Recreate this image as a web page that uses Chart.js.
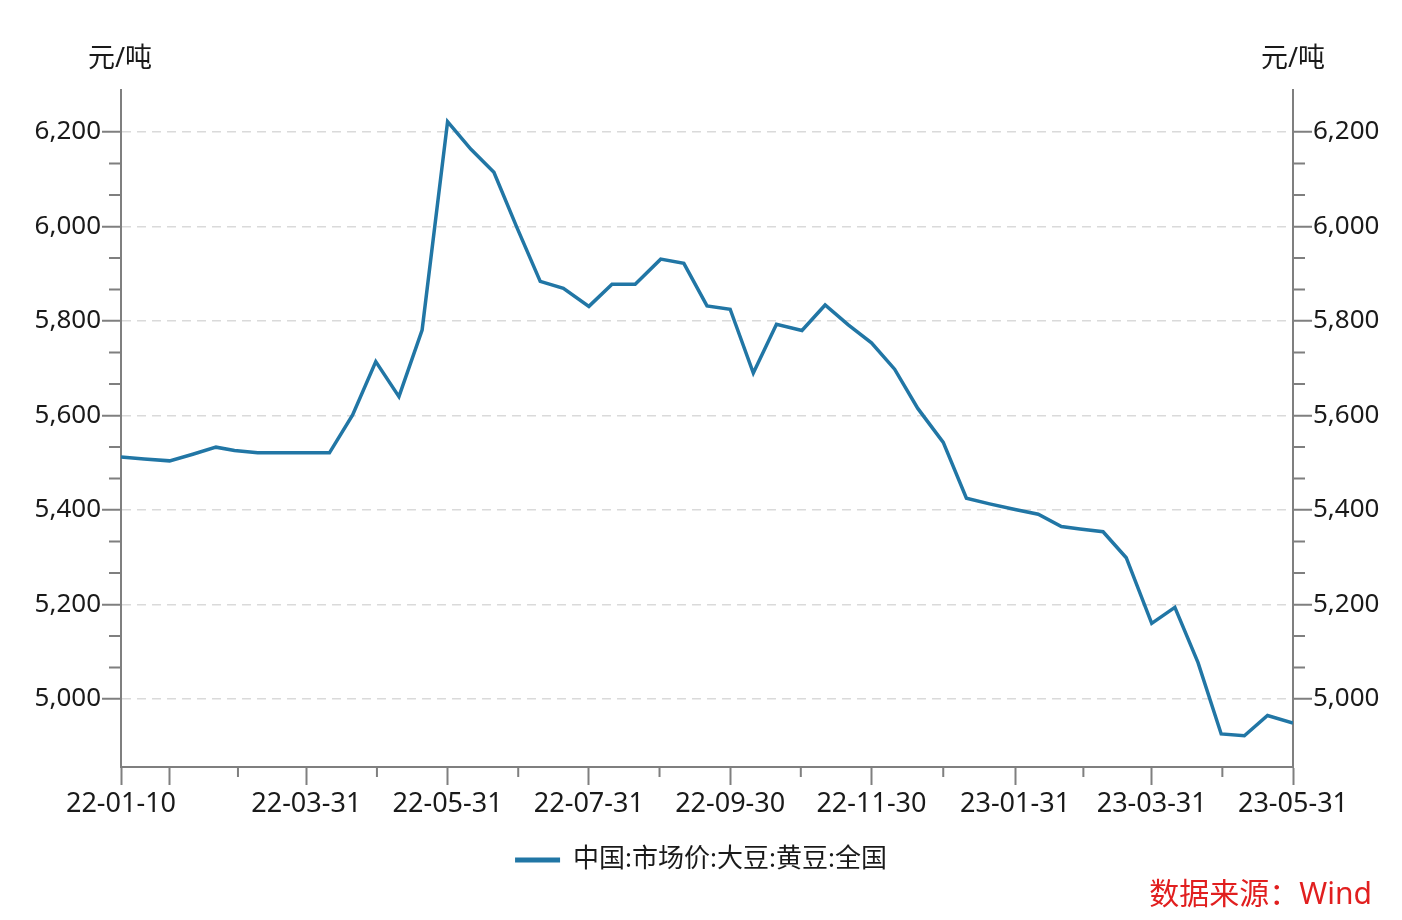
<!DOCTYPE html>
<html lang="zh-CN">
<head>
<meta charset="utf-8">
<title>中国:市场价:大豆:黄豆:全国</title>
<script src="https://cdn.jsdelivr.net/npm/chart.js@4.4.1/dist/chart.umd.min.js"></script>
<style>
  body { margin: 0; background: #fff; }
  #wrap { position: relative; width: 1402px; height: 920px; font-family: "Noto Sans", "Noto Sans CJK SC", sans-serif; }
  #chart { position: absolute; left: 0; top: 0; }
  .unit { position: absolute; top: 36px; font-size: 27px; color: #1a1a1a; width: 120px; text-align: center; }
  #unitLeft { left: 60px; }
  #unitRight { left: 1233px; }
  #source { position: absolute; right: 30px; top: 869px; font-size: 30px; color: #e11f1f; }
</style>
</head>
<body>
<div id="wrap">
  <canvas id="chart" width="1402" height="920"></canvas>
  <div class="unit" id="unitLeft">元/吨</div>
  <div class="unit" id="unitRight">元/吨</div>
  <div id="source">数据来源：Wind</div>
</div>
<script>
// données (prix tous les ~10 jours)
var dates = [
    '2022-01-10', '2022-01-20', '2022-01-31', '2022-02-10', '2022-02-20', '2022-02-28',
    '2022-03-10', '2022-03-20', '2022-03-31', '2022-04-10', '2022-04-20', '2022-04-30',
    '2022-05-10', '2022-05-20', '2022-05-31', '2022-06-10', '2022-06-20', '2022-06-30',
    '2022-07-10', '2022-07-20', '2022-07-31', '2022-08-10', '2022-08-20', '2022-08-31',
    '2022-09-10', '2022-09-20', '2022-09-30', '2022-10-10', '2022-10-20', '2022-10-31',
    '2022-11-10', '2022-11-20', '2022-11-30', '2022-12-10', '2022-12-20', '2022-12-31',
    '2023-01-10', '2023-01-20', '2023-01-31', '2023-02-10', '2023-02-20', '2023-02-28',
    '2023-03-10', '2023-03-20', '2023-03-31', '2023-04-10', '2023-04-20', '2023-04-30',
    '2023-05-10', '2023-05-20', '2023-05-31'
];
var prices = [
    5512, 5508, 5504, 5518, 5533, 5526,
    5521, 5521, 5521, 5521, 5601, 5714,
    5640, 5781, 6222, 6164, 6115, 5997,
    5884, 5869, 5831, 5878, 5878, 5931,
    5922, 5832, 5825, 5690, 5793, 5780,
    5834, 5792, 5754, 5698, 5615, 5543,
    5425, 5413, 5401, 5391, 5365, 5360,
    5354, 5299, 5160, 5194, 5077, 4926,
    4922, 4965, 4949
];
var seriesName = '中国:市场价:大豆:黄豆:全国';

// axe X : graduations principales et leurs libellés
var xMajorDates = ['2022-01-10', '2022-01-31', '2022-03-31', '2022-05-31', '2022-07-31',
                   '2022-09-30', '2022-11-30', '2023-01-31', '2023-03-31', '2023-05-31'];
var xTickLabels = ['22-01-10', '', '22-03-31', '22-05-31', '22-07-31',
                   '22-09-30', '22-11-30', '23-01-31', '23-03-31', '23-05-31'];

// axe Y
var yMajor = [5000, 5200, 5400, 5600, 5800, 6000, 6200];
var yMin = 4856;
var yMax = 6289;

var lineColor = '#2176a5';
var axisColor = '#7f7f7f';
var gridColor = '#dadada';
var textColor = '#1a1a1a';
var fontFamily = '"Noto Sans", "Noto Sans CJK SC", sans-serif';

var startTime = Date.parse(dates[0]);
function dayOf(s) {
    return (Date.parse(s) - startTime) / 86400000;
}

var xMajor = xMajorDates.map(dayOf);
// petites graduations au milieu de deux graduations principales
var xMinor = [];
for (var i = 1; i < xMajor.length - 1; i++) {
    xMinor.push((xMajor[i] + xMajor[i + 1]) / 2);
}
var yMinor = [];
for (var j = 0; j < yMajor.length - 1; j++) {
    var step = (yMajor[j + 1] - yMajor[j]) / 3;
    yMinor.push(yMajor[j] + step, yMajor[j] + 2 * step);
}

// plugin pour dessiner les petites graduations
var minorTicks = {
    id: 'minorTicks',
    afterDraw: function (chart) {
        var ctx = chart.ctx;
        var sx = chart.scales.x, sy = chart.scales.y, sy2 = chart.scales.y2;
        ctx.save();
        ctx.strokeStyle = axisColor;
        ctx.lineWidth = 2;
        ctx.beginPath();
        yMinor.forEach(function (v) {
            var py = sy.getPixelForValue(v);
            ctx.moveTo(sy.right - 12, py);
            ctx.lineTo(sy.right, py);
            ctx.moveTo(sy2.left, py);
            ctx.lineTo(sy2.left + 12, py);
        });
        xMinor.forEach(function (d) {
            var px = sx.getPixelForValue(d);
            ctx.moveTo(px, sx.top);
            ctx.lineTo(px, sx.top + 10);
        });
        ctx.stroke();
        ctx.restore();
    }
};

function yAxis(position) {
    return {
        type: 'linear',
        position: position,
        min: yMin,
        max: yMax,
        afterBuildTicks: function (scale) {
            scale.ticks = yMajor.map(function (v) { return { value: v }; });
        },
        afterFit: function (scale) {
            scale.width = position === 'left' ? 121 : 109;
        },
        ticks: {
            padding: 1,
            color: textColor,
            font: { family: fontFamily, size: 26 },
            callback: function (v) { return v.toLocaleString('en-US'); }
        },
        grid: {
            drawOnChartArea: position === 'left',
            color: gridColor,
            lineWidth: 1.5,
            drawTicks: true,
            tickLength: 19,
            tickColor: axisColor,
            tickWidth: 2
        },
        border: { display: true, color: axisColor, width: 2, dash: [9, 6] }
    };
}

function setupChart() {
    var ctx = document.getElementById('chart');
    var chart = new Chart(ctx, {
        type: 'line',
        data: {
            datasets: [{
                label: seriesName,
                data: dates.map(function (d, k) { return { x: dayOf(d), y: prices[k] }; }),
                borderColor: lineColor,
                backgroundColor: lineColor,
                borderWidth: 3.5,
                pointRadius: 0,
                tension: 0,
                fill: false,
                yAxisID: 'y'
            }]
        },
        options: {
            responsive: false,
            animation: false,
            layout: { padding: { top: 90, bottom: 37, left: 0, right: 0 } },
            scales: {
                x: {
                    type: 'linear',
                    min: xMajor[0],
                    max: xMajor[xMajor.length - 1],
                    afterBuildTicks: function (scale) {
                        scale.ticks = xMajor.map(function (v) { return { value: v }; });
                    },
                    afterFit: function (scale) {
                        scale.height = 60;
                    },
                    ticks: {
                        autoSkip: false,
                        maxRotation: 0,
                        padding: 3,
                        color: textColor,
                        font: { family: fontFamily, size: 27 },
                        callback: function (v, index) { return xTickLabels[index]; }
                    },
                    grid: {
                        drawOnChartArea: false,
                        drawTicks: true,
                        tickLength: 18,
                        tickColor: axisColor,
                        tickWidth: 2
                    },
                    border: { display: true, color: axisColor, width: 2 }
                },
                y: yAxis('left'),
                y2: yAxis('right')
            },
            plugins: {
                tooltip: { enabled: false },
                legend: {
                    position: 'bottom',
                    labels: {
                        color: textColor,
                        font: { family: fontFamily, size: 26 },
                        boxWidth: 45,
                        boxHeight: 5,
                        padding: 20,
                        generateLabels: function (c) {
                            return c.data.datasets.map(function (ds, k) {
                                return {
                                    text: ds.label,
                                    fillStyle: ds.borderColor,
                                    strokeStyle: ds.borderColor,
                                    lineWidth: 0,
                                    fontColor: textColor,
                                    hidden: false,
                                    datasetIndex: k
                                };
                            });
                        }
                    }
                }
            }
        },
        plugins: [minorTicks]
    });
    return chart;
}

setupChart();
</script>
</body>
</html>
